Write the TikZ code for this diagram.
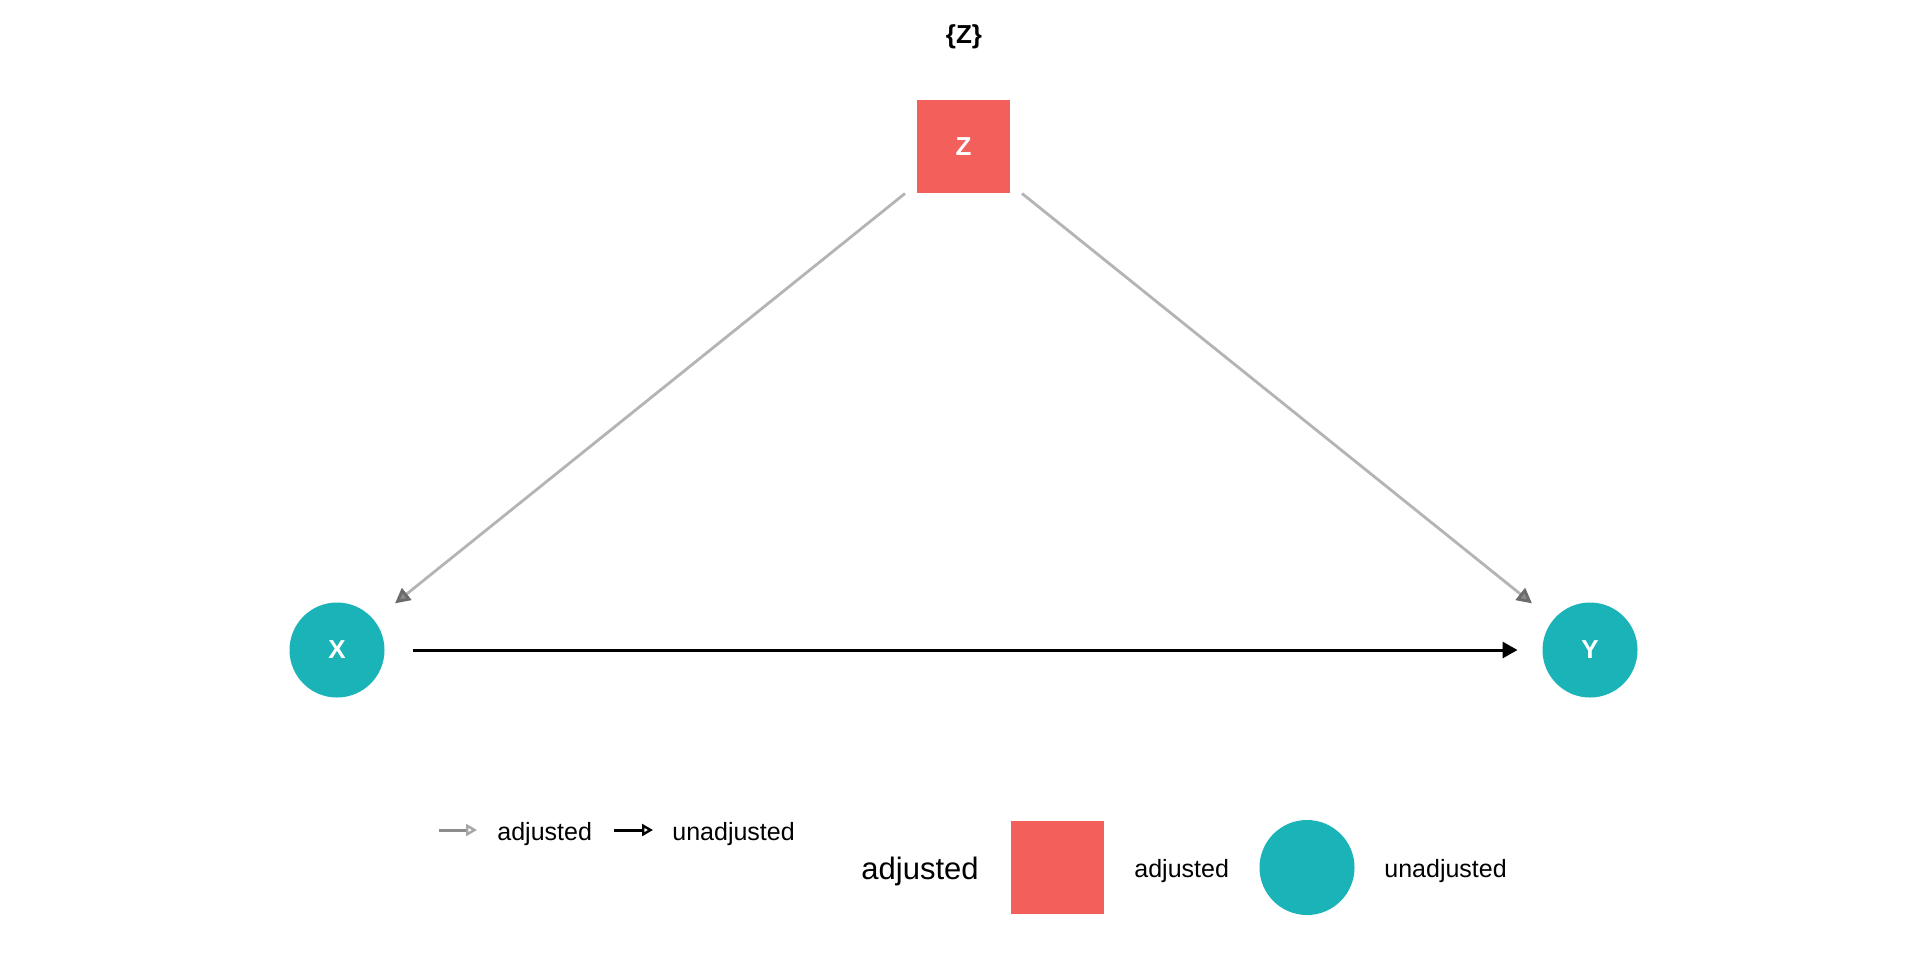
\documentclass[tikz,border=0pt]{standalone}
\usepackage{fontspec}
\setmainfont{Liberation Sans}
\usetikzlibrary{arrows.meta}
\definecolor{adjcol}{HTML}{F35F5B}
\definecolor{unadjcol}{HTML}{19B3B8}
\definecolor{edgegray}{HTML}{B4B4B4}
\definecolor{headgray}{HTML}{8A8A8A}
\definecolor{leggray}{HTML}{8C8C8C}
\begin{document}
\begin{tikzpicture}[x=0.5pt,y=-0.5pt,
  adjnode/.style={rectangle,fill=adjcol,minimum size=46.5pt,inner sep=0pt,outer sep=0pt,text=white,font=\fontsize{13}{15}\selectfont\bfseries},
  unadjnode/.style={circle,fill=unadjcol,minimum size=47.5pt,inner sep=0pt,outer sep=0pt,text=white,font=\fontsize{13}{15}\selectfont\bfseries},
  adjedge/.style={draw=edgegray,line width=1.4pt,-{Triangle[length=7.5pt,width=7.5pt,color=black!58,fill=headgray]}},
  unadjedge/.style={draw=black,line width=1.5pt,-{Triangle[length=7.5pt,width=8pt]}},
  legtext/.style={anchor=base west,inner sep=0pt,font=\fontsize{12.5}{15}\selectfont},
  bigtext/.style={anchor=base west,inner sep=0pt,font=\fontsize{15.5}{18}\selectfont}
]
\useasboundingbox (0,0) rectangle (1920,960);
\fill[white] (0,0) rectangle (1920,960);

% title
\node[anchor=base,inner sep=0pt,font=\fontsize{13}{15}\selectfont\bfseries] (title) at (964,43) {\{Z\}};

% nodes
\node[adjnode] (Z) at (963.5,146.5) {Z};
\node[unadjnode] (X) at (337,650) {X};
\node[unadjnode] (Y) at (1590,650) {Y};

% edges
\draw[adjedge,shorten <=7.7pt,shorten >=13.5pt] (Z) -- (X);
\draw[adjedge,shorten <=7.7pt,shorten >=13.5pt] (Z) -- (Y);
\draw[unadjedge,shorten <=14pt,shorten >=12.5pt] (X) -- (Y);

% legend: edges
\coordinate (la1) at (439,830);
\coordinate (la2) at (477,830);
\coordinate (lb1) at (614,830);
\coordinate (lb2) at (653,830);
\draw[draw=leggray,line width=1.5pt,-{Triangle[open,length=5.5pt,width=6pt,color=black!35,line width=1.2pt]}] (la1) -- (la2);
\draw[draw=black,line width=1.5pt,-{Triangle[open,length=5.5pt,width=6pt,line width=1.2pt]}] (lb1) -- (lb2);
\node[legtext] (ladj) at (497,840) {adjusted};
\node[legtext] (lunadj) at (672,840) {unadjusted};

% legend: nodes
\node[bigtext] (lbig) at (861,879) {adjusted};
\node[rectangle,fill=adjcol,minimum size=46.5pt,inner sep=0pt] (lsq) at (1057.5,867.5) {};
\node[legtext] (lsqtext) at (1134,877) {adjusted};
\node[circle,fill=unadjcol,minimum size=47.5pt,inner sep=0pt] (lci) at (1307,867.5) {};
\node[legtext] (lcitext) at (1384,877) {unadjusted};
\end{tikzpicture}
\end{document}
